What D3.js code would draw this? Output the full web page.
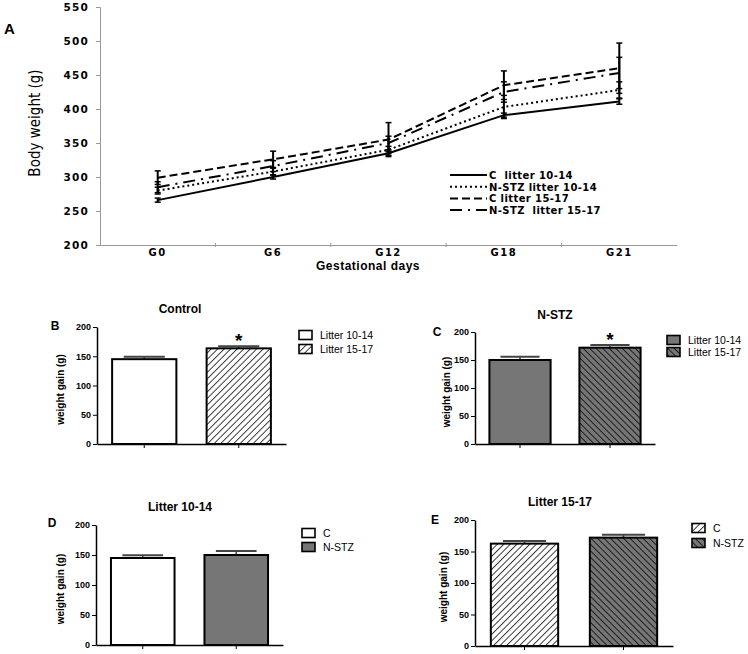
<!DOCTYPE html>
<html><head><meta charset="utf-8">
<script src="https://cdn.jsdelivr.net/npm/d3@7/dist/d3.min.js"></script>
<style>
body{margin:0;background:#fff;}
svg{display:block;font-family:"Liberation Sans",Arial,sans-serif;}
</style></head>
<body>
<svg id="c" width="748" height="654"></svg>
<script>
// ---------- DATA ----------
const days = ["G0","G6","G12","G18","G21"];
const bodyTicks = [200,250,300,350,400,450,500,550];
const seriesNames = ["C  litter 10-14","N-STZ litter 10-14","C litter 15-17","N-STZ  litter 15-17"];
const cLitter1014    = [266,300,335,391,411];
const nstzLitter1014 = [280,308,340,403,428];
const cLitter1517    = [299,326,355,435,460];
const nstzLitter1517 = [285,316,350,425,453];
const cErr1014    = [3,3,3,3,4];
const nstzErr1014 = [5,5,5,17,12];
const cErr1517    = [10,12,25,21,37];
const nstzErr1517 = [8,8,10,15,23];

const gainTicks = [0,50,100,150,200];
const litterGroups = ["Litter 10-14","Litter 15-17"];
const treatGroups = ["C","N-STZ"];
const controlGain = [145,163.5], controlErr = [4,3.5];
const nstzGain = [150,172], nstzErr = [6,5];
const litter1014Gain = [145,150], litter1014Err = [4.5,6.5];
const litter1517Gain = [162.5,172], litter1517Err = [4,4.5];

// ---------- SETUP ----------
const svg = d3.select("#c");
const defs = svg.append("defs");
function hatch(id, bg, dir){
  const s=4.6;
  const p = defs.append("pattern").attr("id",id).attr("patternUnits","userSpaceOnUse")
    .attr("width",s).attr("height",s)
    .attr("patternTransform","rotate("+(dir>0?45:-45)+")");
  p.append("rect").attr("width",s).attr("height",s).attr("fill",bg);
  p.append("line").attr("x1",0).attr("y1",0).attr("x2",0).attr("y2",s)
    .attr("stroke","#000").attr("stroke-width",1.5);
}
hatch("hatchC","#fff",1);
hatch("hatchN","#767676",-1);
const GRAY = "#767676";
const WIDE = "'DejaVu Sans',Verdana,sans-serif";

// ---------- PANEL A ----------
const ax0=100, ax1=677, ayTop=7, ayBot=245;
const xA = d3.scaleBand().domain(days).range([ax0,ax1]);
const yA = d3.scaleLinear().domain([200,550]).range([ayBot,ayTop]);
const gA = svg.append("g");
const yAxisA = d3.axisLeft(yA).tickValues(bodyTicks).tickSize(4).tickPadding(7);
const gy = gA.append("g").attr("transform",`translate(${ax0},0)`).call(yAxisA);
gy.select(".domain").attr("stroke","#999");
gy.selectAll(".tick line").attr("stroke","#999");
gy.selectAll("text").attr("font-family",WIDE).attr("font-size",10.5).attr("font-weight","bold")
  .attr("letter-spacing","1.2px").attr("fill","#000");
const gx = gA.append("g").attr("transform",`translate(0,${ayBot})`)
  .call(d3.axisBottom(xA).tickSize(0).tickPadding(4));
gx.select(".domain").attr("stroke","#999");
gx.selectAll("text").attr("font-family",WIDE).attr("font-size",10).attr("font-weight","bold")
  .attr("letter-spacing","1.5px").attr("fill","#000");
gA.selectAll(".btick").data(days.slice(1)).enter().append("line")
  .attr("x1",d=>xA(d)).attr("x2",d=>xA(d)).attr("y1",ayBot-2).attr("y2",ayBot+2).attr("stroke","#999");
gA.append("text").attr("x",368).attr("y",270).attr("text-anchor","middle")
  .attr("font-size",12).attr("font-weight","bold").attr("letter-spacing","0.5px").text("Gestational days");
gA.append("text").attr("transform","translate(40,123) rotate(-90)").attr("text-anchor","middle")
  .attr("font-family","'Liberation Sans Narrow','DejaVu Sans Condensed',sans-serif")
  .attr("font-size",15).text("Body weight (g)");
gA.append("text").attr("x",4).attr("y",34).attr("font-size",15).attr("font-weight","bold").text("A");

const series = [
  {vals:cLitter1014, err:cErr1014, dash:null},
  {vals:nstzLitter1014, err:nstzErr1014, dash:"2,3"},
  {vals:cLitter1517, err:cErr1517, dash:"8,4"},
  {vals:nstzLitter1517, err:nstzErr1517, dash:"12,6,2,6"}
];
const cx = d=>xA(d)+xA.bandwidth()/2;
const line = d3.line().x((v,i)=>cx(days[i])).y(v=>yA(v));
series.forEach(s=>{
  gA.append("path").attr("d",line(s.vals)).attr("fill","none").attr("stroke","#000")
    .attr("stroke-width",2).attr("stroke-dasharray",s.dash);
  s.vals.forEach((v,i)=>{
    const x=cx(days[i]);
    gA.append("line").attr("x1",x).attr("x2",x).attr("y1",yA(v-s.err[i])).attr("y2",yA(v+s.err[i]))
      .attr("stroke","#000").attr("stroke-width",2);
    [v-s.err[i],v+s.err[i]].forEach(e=>gA.append("line").attr("x1",x-3).attr("x2",x+3)
      .attr("y1",yA(e)).attr("y2",yA(e)).attr("stroke","#000").attr("stroke-width",1.5));
  });
});
series.forEach((s,i)=>{
  const y=175+i*11.7;
  gA.append("line").attr("x1",450).attr("x2",487).attr("y1",y).attr("y2",y)
    .attr("stroke","#000").attr("stroke-width",2).attr("stroke-dasharray",s.dash);
  gA.append("text").attr("x",489).attr("y",y+4).attr("font-family",WIDE).attr("font-size",10).attr("font-weight","bold")
    .attr("letter-spacing","0.4px").style("white-space","pre").text(seriesNames[i]);
});

// ---------- BAR PANELS ----------
function barPanel(o){
  const g = svg.append("g");
  const x = d3.scaleBand().domain(o.cats).range([o.x0,o.x1]).paddingInner(0.32).paddingOuter(0.16);
  const y = d3.scaleLinear().domain([0,200]).range([o.y0,o.yTop]);
  const ya = g.append("g").attr("transform",`translate(${o.x0},0)`)
    .call(d3.axisLeft(y).tickValues(gainTicks).tickSize(4).tickPadding(2).tickSizeOuter(0));
  ya.select(".domain").attr("stroke-width",1.5);
  ya.selectAll("text").attr("font-size",9).attr("font-weight","bold");
  const xa = g.append("g").attr("transform",`translate(0,${o.y0})`)
    .call(d3.axisBottom(x).tickSize(4).tickSizeOuter(0).tickFormat(""));
  xa.select(".domain").attr("stroke-width",1.5);
  o.vals.forEach((v,i)=>{
    const c=o.cats[i], bx=x(c), bw=x.bandwidth(), mid=bx+bw/2;
    g.append("line").attr("x1",mid).attr("x2",mid).attr("y1",y(v)).attr("y2",y(v+o.err[i]))
      .attr("stroke","#444").attr("stroke-width",1.5);
    g.append("line").attr("x1",mid-bw*0.32).attr("x2",mid+bw*0.32).attr("y1",y(v+o.err[i])).attr("y2",y(v+o.err[i]))
      .attr("stroke","#444").attr("stroke-width",2);
    g.append("rect").attr("x",bx).attr("y",y(v)).attr("width",bw).attr("height",o.y0-y(v))
      .attr("fill",o.fills[i]).attr("stroke","#000").attr("stroke-width",2);
    if(o.star && o.star[i]) g.append("text").attr("x",mid).attr("y",y(v+o.err[i])+1).attr("text-anchor","middle")
      .attr("font-size",19).attr("font-weight","bold").text("*");
  });
  g.append("text").attr("x",o.tx).attr("y",o.ty).attr("text-anchor","middle").attr("font-size",12)
    .attr("font-weight","bold").text(o.title);
  g.append("text").attr("x",o.lx).attr("y",o.ly).attr("text-anchor","middle").attr("font-size",12)
    .attr("font-weight","bold").text(o.letter);
  g.append("text").attr("transform",`translate(${o.yl},${(o.y0+o.yTop)/2+4}) rotate(-90)`)
    .attr("text-anchor","middle").attr("font-size",10).attr("font-weight","bold").text("weight gain (g)");
  o.legend.forEach((t,i)=>{
    const yy=o.legY+i*o.legStep;
    g.append("rect").attr("x",o.legX).attr("y",yy-4.5).attr("width",13).attr("height",9)
      .attr("fill",o.fills[i]).attr("stroke","#000").attr("stroke-width",1.6);
    g.append("text").attr("x",o.legX+21).attr("y",yy+4).attr("font-size",10.5).text(t);
  });
}
barPanel({cats:litterGroups, vals:controlGain, err:controlErr, fills:["#fff","url(#hatchC)"], star:[0,1],
  x0:97,x1:286,yTop:327,y0:444, title:"Control", tx:180, ty:313, letter:"B", lx:55, ly:330, yl:64,
  legend:litterGroups, legX:299, legY:335, legStep:14});
barPanel({cats:litterGroups, vals:nstzGain, err:nstzErr, fills:[GRAY,"url(#hatchN)"], star:[0,1],
  x0:475,x1:655,yTop:332,y0:444, title:"N-STZ", tx:555, ty:319, letter:"C", lx:437, ly:336, yl:450,
  legend:litterGroups, legX:667, legY:340, legStep:12});
barPanel({cats:treatGroups, vals:litter1014Gain, err:litter1014Err, fills:["#fff",GRAY], star:null,
  x0:96,x1:283,yTop:525,y0:645, title:"Litter 10-14", tx:180, ty:511, letter:"D", lx:52, ly:527, yl:64,
  legend:treatGroups, legX:302, legY:533, legStep:14});
barPanel({cats:treatGroups, vals:litter1517Gain, err:litter1517Err, fills:["url(#hatchC)","url(#hatchN)"], star:null,
  x0:475,x1:673,yTop:520,y0:646, title:"Litter 15-17", tx:560, ty:506, letter:"E", lx:435, ly:524, yl:447,
  legend:treatGroups, legX:692, legY:528, legStep:15});
</script>
</body></html>
